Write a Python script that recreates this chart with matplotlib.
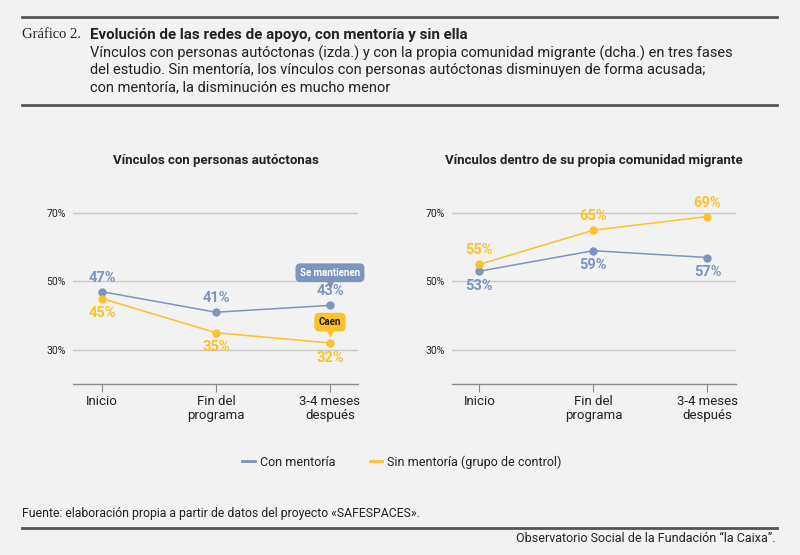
import matplotlib
matplotlib.use("Agg")
import matplotlib.pyplot as plt
import matplotlib.transforms as mtransforms
from matplotlib.lines import Line2D

# ── DATA ──────────────────────────────────────────────────────────────────────
PHASES = ["Inicio", "Fin del\nprograma", "3-4 meses\ndespués"]
AUTO_CON = [47, 41, 43]
AUTO_SIN = [45, 35, 32]
MIGR_CON = [53, 59, 57]
MIGR_SIN = [55, 65, 69]
Y_TICKS = [30, 50, 70]

SERIES_NAMES = ["Con mentoría", "Sin mentoría (grupo de control)"]
PANEL_TITLES = ["Vínculos con personas autóctonas",
                "Vínculos dentro de su propia comunidad migrante"]

# ── STYLE ─────────────────────────────────────────────────────────────────────
BG = "#f2f2f2"
BLUE = "#7b95bd"
YELLOW = "#fdc12b"
DARK = "#222222"
RULE = "#555555"
GRID = "#c9c9c9"

plt.rcParams["font.family"] = ["Roboto", "DejaVu Sans"]

fig = plt.figure(figsize=(8.0, 5.55), dpi=100, facecolor=BG)
W, H = 800, 555


def fx(px):
    return px / W


def fy(py):
    return 1 - py / H


# ── HEADER / FOOTER ───────────────────────────────────────────────────────────
for y in (17, 105, 528):
    fig.add_artist(Line2D([fx(22), fx(777)], [fy(y), fy(y)], color=RULE, lw=2.0))

fig.text(fx(22), fy(35), "Gráfico 2.", family=["Liberation Serif", "DejaVu Serif"],
         fontsize=10.5, color=DARK, va="center", ha="left")
fig.text(fx(90), fy(35), "Evolución de las redes de apoyo, con mentoría y sin ella",
         fontsize=10.9, fontweight="bold", color=DARK, va="center", ha="left")
subtitle = ["Vínculos con personas autóctonas (izda.) y con la propia comunidad migrante (dcha.) en tres fases",
            "del estudio. Sin mentoría, los vínculos con personas autóctonas disminuyen de forma acusada;",
            "con mentoría, la disminución es mucho menor"]
for i, line in enumerate(subtitle):
    fig.text(fx(90), fy(53 + 17 * i), line, fontsize=10.5, color=DARK, va="center", ha="left")

fig.text(fx(22), fy(513), "Fuente: elaboración propia a partir de datos del proyecto «SAFESPACES».",
         fontsize=8.8, color=DARK, va="center", ha="left")
fig.text(fx(775), fy(538), "Observatorio Social de la Fundación “la Caixa”.",
         fontsize=9, color=DARK, va="center", ha="right")

# ── PANELS ────────────────────────────────────────────────────────────────────
panels = [
    (73, 358, -0.254, 2.246, AUTO_CON, AUTO_SIN, True),
    (452, 736, -0.24, 2.25, MIGR_CON, MIGR_SIN, False),
]
y_top, y_bot = 196, 384
OFF_UP, OFF_DN = 10.0, 10.5  # points between marker and label centre

axes = []
for k, (x0, x1, xl, xr, con, sin, con_up) in enumerate(panels):
    ax = fig.add_axes([fx(x0), fy(y_bot), fx(x1 - x0), (y_bot - y_top) / H])
    ax.set_facecolor(BG)
    ax.set_xlim(xl, xr)
    ax.set_ylim(20, 75)
    for s in ["top", "right", "left"]:
        ax.spines[s].set_visible(False)
    ax.spines["bottom"].set_color("#8a8a8a")
    ax.spines["bottom"].set_linewidth(1.0)
    ax.set_yticks(Y_TICKS)
    ax.set_yticklabels([f"{v}%" for v in Y_TICKS], fontsize=7.5, color=DARK)
    ax.tick_params(axis="y", length=0, pad=5)
    ax.set_xticks(range(len(PHASES)))
    ax.set_xticklabels(PHASES, fontsize=9.5, color=DARK, linespacing=1.1)
    ax.tick_params(axis="x", length=6, color="#8a8a8a", pad=2)
    ax.grid(axis="y", color=GRID, lw=1.0)
    ax.set_axisbelow(True)
    ax.set_title(PANEL_TITLES[k], fontsize=9.5, fontweight="bold", color=DARK, pad=23)

    x = list(range(len(PHASES)))
    ax.plot(x, con, color=BLUE, lw=1.1, marker="o", ms=5, zorder=3)
    ax.plot(x, sin, color=YELLOW, lw=1.1, marker="o", ms=5, zorder=3)

    for xi, c, s in zip(x, con, sin):
        ax.annotate(f"{c}%", (xi, c), xytext=(0, OFF_UP if con_up else -OFF_DN),
                    textcoords="offset points", ha="center", va="center",
                    fontsize=10.5, fontweight="semibold", color=BLUE)
        ax.annotate(f"{s}%", (xi, s), xytext=(0, -OFF_DN if con_up else OFF_UP),
                    textcoords="offset points", ha="center", va="center",
                    fontsize=10.5, fontweight="semibold", color=YELLOW)
    axes.append(ax)

# callouts on the left panel
axl = axes[0]
for val, txt, fc, tc, off in [(AUTO_CON[2], "Se mantienen", BLUE, "white", 23.5),
                              (AUTO_SIN[2], "Caen", YELLOW, DARK, 15)]:
    axl.annotate(txt, (2, val), xytext=(0, off), textcoords="offset points",
                 ha="center", va="center", fontsize=7, fontweight="bold", color=tc,
                 bbox=dict(boxstyle="round,pad=0.45,rounding_size=0.5", fc=fc, ec="none"),
                 zorder=5)
    shift = mtransforms.ScaledTranslation(0, (off - 8.0) / 72, fig.dpi_scale_trans)
    axl.plot([2], [val], marker="v", ms=5, color=fc, zorder=4,
             transform=axl.transData + shift)

# ── LEGEND ────────────────────────────────────────────────────────────────────
handles = [Line2D([], [], color=BLUE, lw=2), Line2D([], [], color=YELLOW, lw=2)]
fig.legend(handles, SERIES_NAMES, loc="center", bbox_to_anchor=(fx(402), fy(462)),
           ncol=2, frameon=False, fontsize=9, handlelength=1.0, handletextpad=0.4,
           columnspacing=2.8, labelcolor=DARK)

fig.savefig("out.png", dpi=100, facecolor=BG)
